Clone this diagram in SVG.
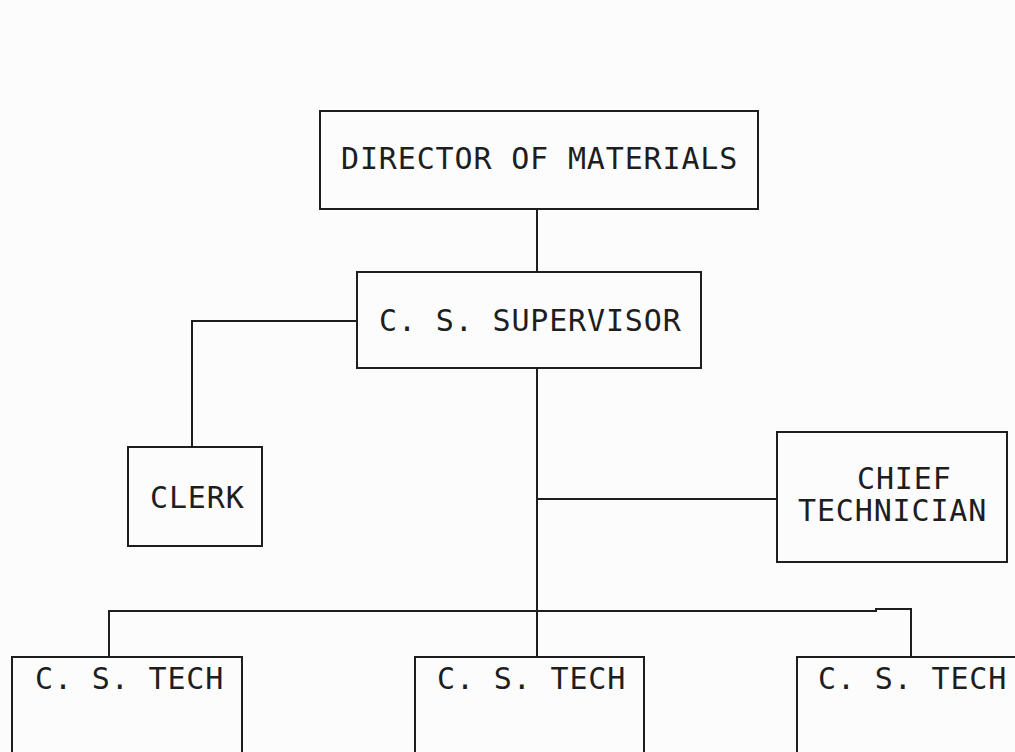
<svg xmlns="http://www.w3.org/2000/svg" width="1015" height="752" viewBox="0 0 1015 752">
<style>
.box{fill:none;stroke:#1e1e1e;stroke-width:2}
.ln{fill:none;stroke:#1e1e1e;stroke-width:2}
.t{font-family:"DejaVu Sans Mono","Liberation Mono",monospace;font-size:30px;letter-spacing:0.85px;fill:#1e1e1e}
</style>
<rect width="1015" height="752" fill="#fcfcfc"/>
<g id="connectors">
<path class="ln" d="M537 209V272"/>
<path class="ln" d="M357 321H192V447"/>
<path class="ln" d="M537 368V657"/>
<path class="ln" d="M537 499H777"/>
<path class="ln" d="M109 657V611H876V609H911V657"/>
</g>
<g id="director"><rect class="box" x="320" y="111" width="438" height="98"/><text class="t" x="341" y="169">DIRECTOR OF MATERIALS</text></g>
<g id="supervisor"><rect class="box" x="357" y="272" width="344" height="96"/><text class="t" x="379" y="331">C. S. SUPERVISOR</text></g>
<g id="clerk"><rect class="box" x="128" y="447" width="134" height="99"/><text class="t" x="150" y="508">CLERK</text></g>
<g id="chief"><rect class="box" x="777" y="432" width="230" height="130"/><text class="t" x="857" y="489">CHIEF</text><text class="t" x="798" y="521">TECHNICIAN</text></g>
<g id="tech1"><rect class="box" x="12" y="657" width="230" height="110"/><text class="t" x="35" y="689">C. S. TECH</text></g>
<g id="tech2"><rect class="box" x="415" y="657" width="229" height="110"/><text class="t" x="437" y="689">C. S. TECH</text></g>
<g id="tech3"><rect class="box" x="797" y="657" width="230" height="110"/><text class="t" x="818" y="689">C. S. TECH</text></g>
</svg>
